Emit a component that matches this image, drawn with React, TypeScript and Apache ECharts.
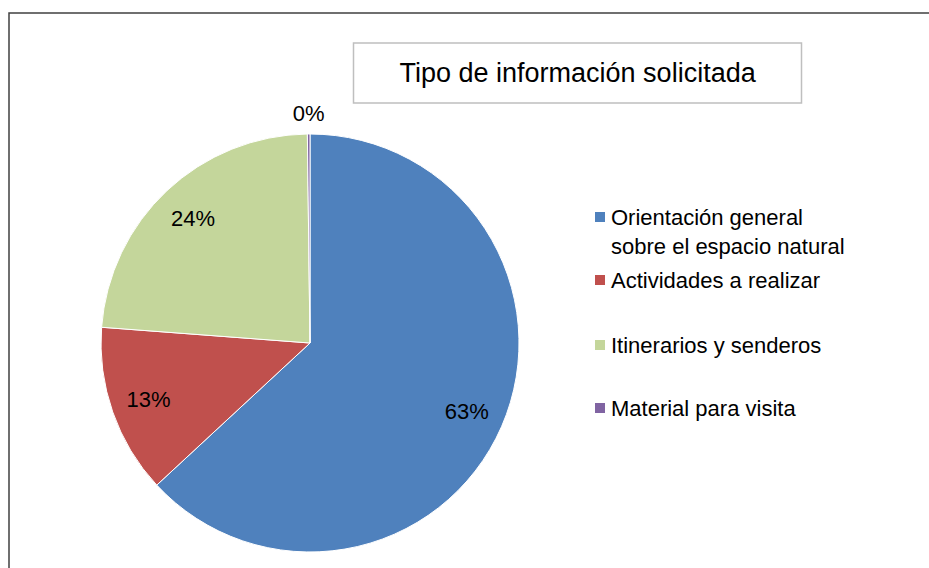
import React, { useEffect, useRef } from "react";
import * as echarts from "echarts";

const titleText = "Tipo de información solicitada";
const categories = [
  "Orientación general\nsobre el espacio natural",
  "Actividades a realizar",
  "Itinerarios y senderos",
  "Material para visita",
];
const values = [63.1, 13.1, 23.6, 0.2];
const colors = ["#4F81BD", "#C0504D", "#C4D69B", "#8064A2"];

const FONT = "'Liberation Sans', Arial, sans-serif";

export default function App() {
  const ref = useRef<HTMLDivElement>(null);
  useEffect(() => {
    if (!ref.current) return;
    const chart = echarts.init(ref.current, undefined, { renderer: "svg" });
    const pct = (p: any) => Math.round(p.percent) + "%";
    const mainData = categories.map((name, i) => ({
      name,
      value: values[i],
      itemStyle: { color: colors[i] },
    }));
    const labelData = categories.map((name, i) => {
      const item: any = { name, value: values[i] };
      if (i === 3) {
        item.label = { position: "outside" };
        item.labelLine = { show: false, length: 21, length2: 0 };
      }
      return item;
    });
    const legendTops = [202.5, 265.5, 330.5, 393.5];
    const legends = categories.map((name, i) => ({
      data: [name],
      left: 593,
      top: legendTops[i],
      orient: "vertical",
      padding: 0,
      itemWidth: 12,
      itemHeight: i === 0 ? 41 : 12,
      icon: i === 0 ? "path://M0,0L12,0L12,12L0,12Z M0,41L12,41" : "rect",
      selectedMode: false,
      textStyle: {
        fontFamily: FONT,
        fontSize: 22,
        lineHeight: 29,
        color: "#000",
      },
    }));
    chart.setOption({
      animation: false,
      backgroundColor: "#fff",
      title: {
        text: titleText,
        left: 353,
        top: 43,
        padding: [14, 46.5],
        borderColor: "#BFBFBF",
        borderWidth: 1.5,
        textStyle: {
          fontFamily: FONT,
          fontSize: 27,
          fontWeight: "normal",
          lineHeight: 32,
          color: "#000",
        },
      },
      legend: legends,
      graphic: [
        {
          type: "rect",
          shape: { x: 9, y: 13, width: 1000, height: 1000 },
          style: { fill: "none", stroke: "#404040", lineWidth: 1.5 },
          silent: true,
          z: 100,
        },
      ],
      series: [
        {
          type: "pie",
          center: [310, 343],
          radius: [0, 209],
          startAngle: 90,
          clockwise: true,
          label: { show: false },
          labelLine: { show: false },
          itemStyle: { borderColor: "#fff", borderWidth: 1 },
          emphasis: { disabled: true },
          data: mainData,
        },
        {
          type: "pie",
          center: [310, 343],
          radius: [127, 209],
          startAngle: 90,
          clockwise: true,
          silent: true,
          itemStyle: { color: "rgba(0,0,0,0)" },
          emphasis: { disabled: true },
          avoidLabelOverlap: false,
          label: {
            show: true,
            position: "inside",
            formatter: pct,
            fontFamily: FONT,
            fontSize: 22,
            color: "#000",
            distanceToLabelLine: 0,
          },
          labelLine: { show: false },
          labelLayout: (p: any) => (p.dataIndex === 3 ? { align: "center" } : {}),
          data: labelData,
        },
      ],
    });
    return () => chart.dispose();
  }, []);
  return (
    <div
      ref={ref}
      style={{ position: "fixed", left: 0, top: 0, width: 929, height: 568 }}
    />
  );
}
